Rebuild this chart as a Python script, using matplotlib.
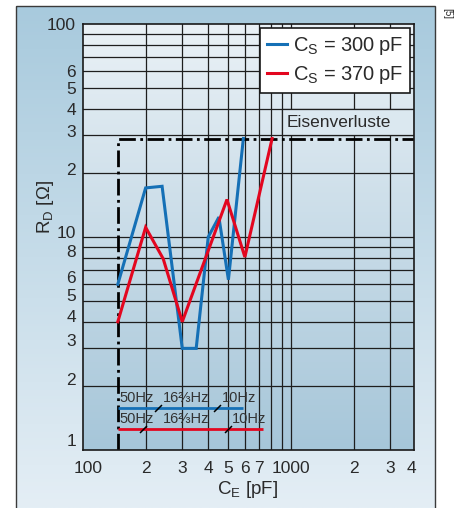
import numpy as np
import matplotlib
matplotlib.use('Agg')
import matplotlib.pyplot as plt
from matplotlib.patches import Rectangle
from matplotlib.path import Path
from matplotlib.transforms import ScaledTranslation
from matplotlib.colors import LinearSegmentedColormap

plt.rcParams['font.family'] = ['Liberation Sans', 'DejaVu Sans']
plt.rcParams['mathtext.default'] = 'regular'

# ---------------- data ----------------
cs300_ce = [147, 200, 240, 300, 350, 400, 450, 500, 590]
cs300_rd = [6.0, 17.0, 17.3, 3.0, 3.0, 10.0, 12.4, 6.3, 29.0]
cs370_ce = [147, 200, 243, 300, 492, 600, 811]
cs370_rd = [4.0, 11.1, 7.9, 4.0, 15.0, 8.05, 29.0]

legend_300 = "C$_S$ = 300\u2009pF"
legend_370 = "C$_S$ = 370\u2009pF"

iron_ce = [147, 147, 3900]
iron_rd = [1, 29, 29]
iron_label = "Eisenverluste"
iron_box_ce = [900, 3900]
iron_box_rd = [30, 40]

freq_labels = ["50Hz", "16\u2154Hz", "10Hz"]
freq300_line_ce = [147, 588]
freq300_rd = 1.58
freq300_marks = [229, 441]
freq300_label_ce = [150, 242, 466]
freq300_label_rd = 1.76
freq370_line_ce = [147, 734]
freq370_rd = 1.26
freq370_marks = [194, 498]
freq370_label_ce = [150, 242, 520]
freq370_label_rd = 1.40

xtick_pos = [100, 200, 300, 400, 500, 600, 700, 1000, 2000, 3000, 3800]
xtick_lab = ['100', '2', '3', '4', '5', '6', '7', '1000', '2', '3', '4']
ytick_pos = [1, 2, 3, 4, 5, 6, 8, 10, 20, 30, 40, 50, 60, 100]
ytick_lab = ['1', '2', '3', '4', '5', '6', '8', '10', '2', '3', '4', '5', '6', '100']
ytick_shift = [10, 7, 8, 6, 6, 7, 7, 5, 4, 4, 0, 0, 0, 0]  # px upward

xgrid = [200, 300, 400, 500, 600, 700, 800, 900, 1000, 2000, 3000]
ygrid = [2, 3, 4, 5, 6, 7, 8, 9, 10, 20, 30, 40, 50, 60, 70, 80, 90]

BLUE = '#1570b6'
RED = '#e3061f'
GRID = '#1e1e1e'
TXT = '#2a2a2a'

W, H = 459, 508
fig = plt.figure(figsize=(W / 100, H / 100), dpi=100)

# ---------------- outer panel ----------------
bg = fig.add_axes([0, 0, 1, 1], zorder=-10)
bg.set_xlim(0, W)
bg.set_ylim(H, 0)
bg.axis('off')
cmap_panel = LinearSegmentedColormap.from_list('p', ['#a8cadd', '#e4eef5'])
grad = np.linspace(0, 1, 256).reshape(-1, 1)
bg.imshow(grad, cmap=cmap_panel, extent=[16, 435, H, 6], aspect='auto', zorder=0)
bg.add_patch(Rectangle((16, 6), 419, H, fill=False, edgecolor='#3a3a3a', lw=1.0, zorder=1))
bg.text(447, 14, "[5]", rotation=-90, fontsize=7, ha='center', va='center', color=TXT)

# ---------------- main axes ----------------
ax = fig.add_axes([83 / W, 1 - 450 / H, 331 / W, 426 / H])
ax.set_xscale('log')
ax.set_yscale('log')
ax.set_xlim(100, 3900)
ax.set_ylim(1, 100)
ax.set_facecolor('none')

cmap_ax = LinearSegmentedColormap.from_list('a', ['#a6c6d9', '#eaf1f6'])
ax.imshow(grad[::-1], cmap=cmap_ax, extent=[0, 1, 0, 1], transform=ax.transAxes,
          aspect='auto', zorder=0)

for xv in xgrid:
    ax.axvline(xv, color=GRID, lw=0.9, zorder=1)
for yv in ygrid:
    ax.axhline(yv, color=GRID, lw=0.9, zorder=1)

# iron-loss label box
ax.add_patch(Rectangle((iron_box_ce[0], iron_box_rd[0]), iron_box_ce[1] - iron_box_ce[0],
                       iron_box_rd[1] - iron_box_rd[0], facecolor='#dbe8f0',
                       edgecolor=GRID, lw=0.9, zorder=2))
ax.text(957, np.sqrt(iron_box_rd[0] * iron_box_rd[1]), iron_label, fontsize=12.5,
        color=TXT, ha='left', va='center', zorder=3)

ax.plot(iron_ce, iron_rd, color='black', lw=2.0, linestyle=(0, (6, 1.6, 1, 1.6)),
        zorder=3, solid_capstyle='butt', dash_capstyle='butt')

l1, = ax.plot(cs300_ce, cs300_rd, color=BLUE, lw=2.2, zorder=5, solid_joinstyle='miter')
l2, = ax.plot(cs370_ce, cs370_rd, color=RED, lw=2.2, zorder=5, solid_joinstyle='miter')

# frequency bars
slash = Path([(-1, -1), (1, 1)], [Path.MOVETO, Path.LINETO])
ax.plot(freq300_line_ce, [freq300_rd] * 2, color=BLUE, lw=2.0, zorder=4, solid_capstyle='butt')
ax.plot(freq370_line_ce, [freq370_rd] * 2, color=RED, lw=2.0, zorder=4, solid_capstyle='butt')
ax.plot(freq300_marks, [freq300_rd] * len(freq300_marks), linestyle='none', marker=slash,
        markersize=5, mec='black', mew=1.1, zorder=6)
ax.plot(freq370_marks, [freq370_rd] * len(freq370_marks), linestyle='none', marker=slash,
        markersize=5, mec='black', mew=1.1, zorder=6)
for lab, xv in zip(freq_labels, freq300_label_ce):
    ax.text(xv, freq300_label_rd, lab, fontsize=10.5, color='#333333', ha='left', va='center', zorder=6)
for lab, xv in zip(freq_labels, freq370_label_ce):
    ax.text(xv, freq370_label_rd, lab, fontsize=10.5, color='#333333', ha='left', va='center', zorder=6)

# ticks
ax.set_xticks(xtick_pos)
ax.set_xticklabels(xtick_lab)
ax.set_yticks(ytick_pos)
ax.set_yticklabels(ytick_lab)
ax.xaxis.set_minor_locator(matplotlib.ticker.NullLocator())
ax.yaxis.set_minor_locator(matplotlib.ticker.NullLocator())
ax.tick_params(axis='both', length=0, labelsize=12.5, labelcolor=TXT)
ax.tick_params(axis='x', pad=8)
ax.tick_params(axis='y', pad=5)
for lab, sh in zip(ax.get_yticklabels(), ytick_shift):
    lab.set_transform(lab.get_transform() + ScaledTranslation(0, sh / 100, fig.dpi_scale_trans))
first = ax.get_xticklabels()[0]
first.set_transform(first.get_transform() + ScaledTranslation(5 / 100, 0, fig.dpi_scale_trans))

for sp in ax.spines.values():
    sp.set_linewidth(1.2)
    sp.set_color('#1a1a1a')
    sp.set_zorder(7)

ax.set_xlabel("C$_E$ [pF]", fontsize=13.5, color=TXT, va='center')
ax.xaxis.set_label_coords((248 - 83) / 331, (450 - 490) / 426)
ax.set_ylabel("R$_D$ [\u03a9]", fontsize=13.5, color=TXT, va='center')
ax.yaxis.set_label_coords((45 - 83) / 331, (450 - 207) / 426)

leg = ax.legend([l1, l2], [legend_300, legend_370], loc='upper right',
                bbox_to_anchor=((410 - 83) / 331, (450 - 28) / 426), borderaxespad=0,
                fontsize=14.5, handlelength=1.0, handletextpad=0.3, labelspacing=0.35,
                borderpad=0.35, fancybox=False, framealpha=1, edgecolor='#1a1a1a')
leg.get_frame().set_linewidth(1.2)
leg.set_zorder(8)
for t in leg.get_texts():
    t.set_color(TXT)

fig.savefig('out.png', dpi=100)
